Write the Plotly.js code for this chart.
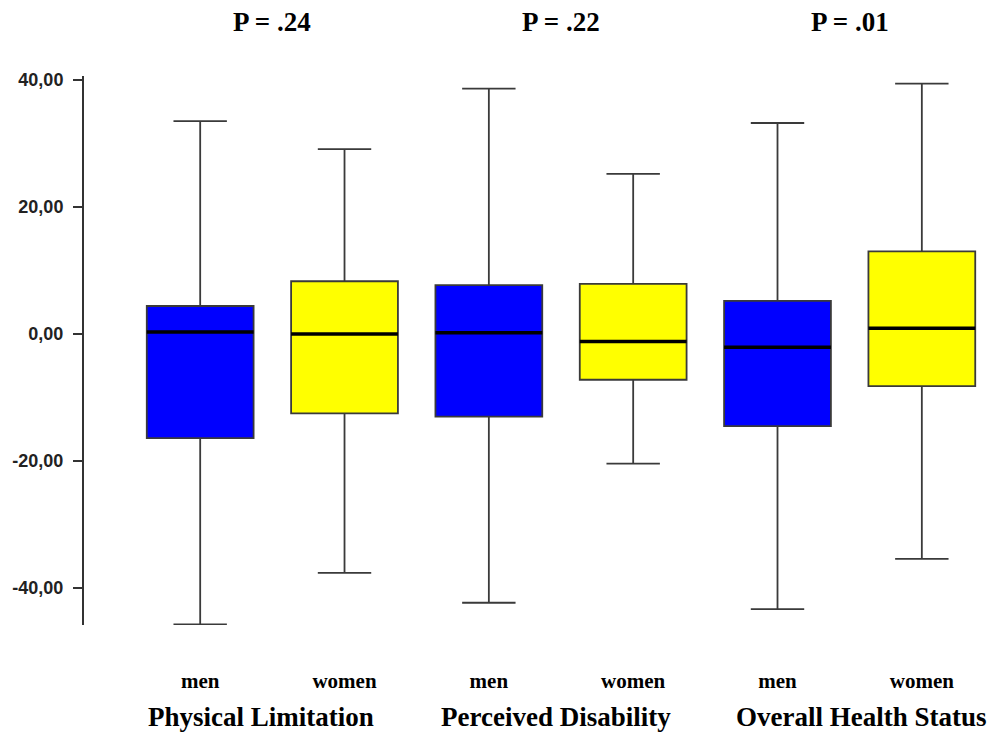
<!DOCTYPE html>
<html>
<head>
<meta charset="utf-8">
<script src="https://cdn.plot.ly/plotly-3.0.1.min.js"></script>
<style>html,body{margin:0;padding:0;background:#fff;}#chart{width:999px;height:756px;}</style>
</head>
<body>
<div id="chart"></div>
<script>
const groups = ['Physical Limitation', 'Perceived Disability', 'Overall Health Status'];
const pValues = ['P = .24', 'P = .22', 'P = .01'];
const sexLabels = ['men', 'women'];

const menLow = [-45.7, -42.3, -43.3];
const menQ1 = [-16.4, -13.0, -14.5];
const menMedian = [0.3, 0.2, -2.1];
const menQ3 = [4.4, 7.7, 5.2];
const menHigh = [33.5, 38.6, 33.2];

const womenLow = [-37.6, -20.4, -35.4];
const womenQ1 = [-12.5, -7.2, -8.2];
const womenMedian = [0.0, -1.2, 0.9];
const womenQ3 = [8.3, 7.9, 13.0];
const womenHigh = [29.1, 25.2, 39.4];

const yTickVals = [-40, -20, 0, 20, 40];
const yTickText = ['-40,00', '-20,00', '0,00', '20,00', '40,00'];

const BOX_W = 0.74;
const menX = groups.map((g, i) => 2 * i);
const womenX = groups.map((g, i) => 2 * i + 1);
const titleShift = [-11, -5, 12];

function boxTrace(xs, low, q1, med, q3, high, color, name) {
  return {
    type: 'box', name: name, x: xs,
    lowerfence: low, q1: q1, median: med, q3: q3, upperfence: high,
    fillcolor: color,
    line: {color: '#3a3a3a', width: 1.8},
    width: BOX_W, whiskerwidth: 0.5,
    boxpoints: false, hoverinfo: 'skip', showlegend: false
  };
}
function medianTrace(xs, med) {
  const x = [], y = [];
  xs.forEach((p, i) => { x.push(p - BOX_W / 2, p + BOX_W / 2, null); y.push(med[i], med[i], null); });
  return {type: 'scatter', mode: 'lines', x: x, y: y, line: {color: '#000', width: 3.5},
          hoverinfo: 'skip', showlegend: false};
}

const data = [
  boxTrace(menX, menLow, menQ1, menMedian, menQ3, menHigh, '#0000ff', 'men'),
  boxTrace(womenX, womenLow, womenQ1, womenMedian, womenQ3, womenHigh, '#ffff00', 'women'),
  medianTrace(menX, menMedian),
  medianTrace(womenX, womenMedian)
];

const tickVals = [], tickText = [];
groups.forEach((g, i) => { sexLabels.forEach((s, j) => { tickVals.push(2 * i + j); tickText.push(s); }); });

const serif = 'Liberation Serif, Times New Roman, serif';
const annotations = [];
groups.forEach((g, i) => {
  annotations.push({x: 2 * i + 0.5, xref: 'x', y: 1.098, yref: 'paper', text: pValues[i], showarrow: false,
    xanchor: 'center', yanchor: 'middle', font: {family: serif, size: 27, weight: 'bold', color: '#000'}});
  annotations.push({x: 2 * i + 0.5, xref: 'x', y: -0.168, yref: 'paper', text: g, showarrow: false,
    xshift: titleShift[i],
    xanchor: 'center', yanchor: 'middle', font: {family: serif, size: 27, weight: 'bold', color: '#000'}});
});

const layout = {
  width: 999, height: 756,
  margin: {l: 84, r: 5, t: 76, b: 131},
  paper_bgcolor: '#fff', plot_bgcolor: '#fff',
  boxmode: 'overlay',
  showlegend: false,
  xaxis: {
    range: [-0.805, 5.5], showline: false, zeroline: false, showgrid: false,
    tickmode: 'array', tickvals: tickVals, ticktext: tickText, ticks: '',
    ticklabelstandoff: 41,
    tickfont: {family: serif, size: 21, weight: 'bold', color: '#000'}
  },
  yaxis: {
    range: [-45.8, 40.6], showline: true, linecolor: '#333', linewidth: 2,
    zeroline: false, showgrid: false,
    ticks: 'outside', ticklen: 9, tickwidth: 2, tickcolor: '#333',
    tickmode: 'array', tickvals: yTickVals, ticktext: yTickText,
    ticklabelstandoff: 6,
    tickfont: {family: 'Liberation Sans, Arial, sans-serif', size: 18, weight: 'bold', color: '#222'}
  },
  annotations: annotations
};

Plotly.newPlot('chart', data, layout, {displayModeBar: false, staticPlot: true});
</script>
</body>
</html>
